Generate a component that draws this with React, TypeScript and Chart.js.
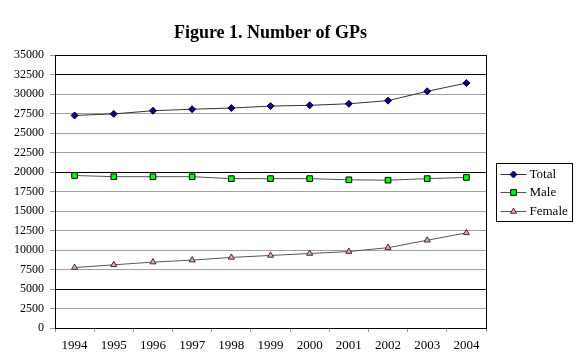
import React, { useEffect, useRef } from "react";
import { Chart, registerables } from "chart.js";
import { drawPoint } from "chart.js/helpers";

Chart.register(...registerables);

const titleText = "Figure 1. Number of GPs";
const years = ["1994", "1995", "1996", "1997", "1998", "1999", "2000", "2001", "2002", "2003", "2004"];
const totalGPs = [27250, 27450, 27850, 28050, 28200, 28450, 28550, 28750, 29150, 30350, 31400];
const maleGPs = [19550, 19400, 19400, 19400, 19150, 19150, 19150, 19000, 18950, 19150, 19300];
const femaleGPs = [7750, 8100, 8450, 8700, 9050, 9300, 9550, 9800, 10300, 11250, 12200];
const seriesNames = ["Total", "Male", "Female"];
const darkGridValues = [35000, 32500, 20000, 5000];

const FONT = "'Liberation Serif', 'Times New Roman', serif";

const decorPlugin = {
  id: "decor",
  afterDraw(chart: any) {
    const { ctx, chartArea } = chart;
    ctx.save();
    // right border of plot area
    ctx.strokeStyle = "#000";
    ctx.lineWidth = 1;
    const rx = Math.round(chartArea.right) + 0.5;
    ctx.beginPath();
    ctx.moveTo(rx, Math.round(chartArea.top));
    ctx.lineTo(rx, Math.round(chartArea.bottom) + 1);
    ctx.stroke();

    // title
    ctx.font = `bold 18px ${FONT}`;
    ctx.fillStyle = "#000";
    ctx.textAlign = "center";
    ctx.textBaseline = "alphabetic";
    ctx.fillText(titleText, (chartArea.left + chartArea.right) / 2, chartArea.top - 17.5);

    // legend
    const bl = Math.round(chartArea.right) + 10.5;
    const bt = 163.5;
    const bw = 76;
    const bh = 58;
    ctx.strokeStyle = "#000";
    ctx.strokeRect(bl, bt, bw, bh);
    const rowY = [174.5, 192.5, 211.5];
    chart.data.datasets.forEach((ds: any, i: number) => {
      const y = rowY[i];
      ctx.strokeStyle = ds.borderColor;
      ctx.lineWidth = 1;
      ctx.beginPath();
      ctx.moveTo(bl + 4, y);
      ctx.lineTo(bl + 30, y);
      ctx.stroke();
      ctx.fillStyle = ds.pointBackgroundColor;
      ctx.strokeStyle = ds.pointBorderColor;
      ctx.lineWidth = 1;
      drawPoint(ctx, { pointStyle: ds.pointStyle, radius: ds.pointRadius, borderWidth: 1, rotation: 0 } as any, bl + 17, y);
      ctx.fillStyle = "#000";
      ctx.font = `13px ${FONT}`;
      ctx.textAlign = "left";
      ctx.textBaseline = "middle";
      ctx.fillText(ds.label, bl + 33, y);
    });
    ctx.restore();
  },
};

export default function App() {
  const ref = useRef<HTMLCanvasElement | null>(null);
  useEffect(() => {
    if (!ref.current) return;
    const chart = new Chart(ref.current, {
      type: "line",
      data: {
        labels: years,
        datasets: [
          {
            label: seriesNames[0],
            data: totalGPs,
            borderColor: "#333",
            borderWidth: 1,
            pointStyle: "rectRot",
            pointRadius: 3.5,
            pointBackgroundColor: "#000080",
            pointBorderColor: "#000040",
            pointBorderWidth: 1,
          },
          {
            label: seriesNames[1],
            data: maleGPs,
            borderColor: "#555",
            borderWidth: 1,
            pointStyle: "rect",
            pointRadius: 4,
            pointBackgroundColor: "#00ff00",
            pointBorderColor: "#000",
            pointBorderWidth: 1,
          },
          {
            label: seriesNames[2],
            data: femaleGPs,
            borderColor: "#555",
            borderWidth: 1,
            pointStyle: "triangle",
            pointRadius: 3.5,
            pointBackgroundColor: "#ff99cc",
            pointBorderColor: "#333",
            pointBorderWidth: 1,
          },
        ],
      },
      options: {
        responsive: false,
        animation: false,
        layout: { padding: { top: 55, right: 100, left: 0, bottom: 0 } },
        plugins: {
          legend: { display: false },
          title: { display: false },
          tooltip: { enabled: false },
        },
        scales: {
          x: {
            type: "category",
            offset: true,
            grid: {
              offset: true,
              drawOnChartArea: false,
              tickLength: 4,
              color: "#999",
            },
            border: { color: "#000", width: 1 },
            ticks: {
              font: { family: FONT, size: 13 },
              color: "#000",
              padding: 6,
              maxRotation: 0,
              autoSkip: false,
            },
            afterFit: (s: any) => {
              s.height = 31;
            },
          },
          y: {
            min: 0,
            max: 35000,
            grid: {
              tickLength: 5,
              color: (c: any) => (darkGridValues.includes(c.tick?.value) ? "#000" : "#a0a0a0"),
              tickColor: "#999",
            },
            border: { color: "#000", width: 1 },
            ticks: {
              stepSize: 2500,
              font: { family: FONT, size: 12 },
              color: "#000",
              padding: 6,
              callback: (v: any) => String(v),
            },
            afterFit: (s: any) => {
              s.width = 55;
            },
          },
        },
      },
      plugins: [decorPlugin],
    });
    return () => chart.destroy();
  }, []);
  return (
    <div style={{ position: "fixed", left: 0, top: 0, width: 586, height: 359, background: "#fff" }}>
      <canvas ref={ref} width={586} height={359} />
    </div>
  );
}
